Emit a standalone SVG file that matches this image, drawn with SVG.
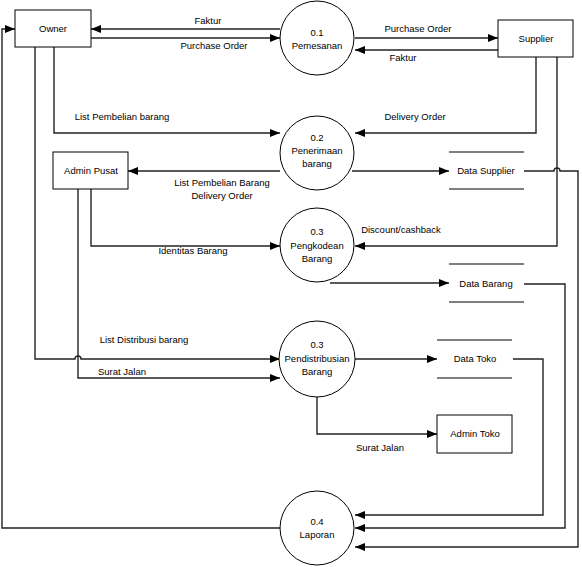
<svg xmlns="http://www.w3.org/2000/svg" width="582" height="567" viewBox="0 0 582 567">
<defs>
<marker id="ah" viewBox="0 0 10 8" refX="10" refY="4" markerWidth="10" markerHeight="8" markerUnits="userSpaceOnUse" orient="auto">
<path d="M0,0 L10,4 L0,8 Z" fill="#000"/>
</marker>
</defs>
<style>
text{font-family:"Liberation Sans",Arial,sans-serif;font-size:9.5px;fill:#000;text-anchor:middle}
.box{fill:#fff;stroke:#000;stroke-width:1}
.proc{fill:#fff;stroke:#000;stroke-width:1}
.store{stroke:#000;stroke-width:1}
.c{fill:none;stroke:#222;stroke-width:1.4;marker-end:url(#ah)}
.n{fill:none;stroke:#222;stroke-width:1.4}
</style>
<rect width="582" height="567" fill="#fff"/>
<g id="connectors">
<path class="c" d="M280,29 H91"/>
<path class="c" d="M91,38 H280"/>
<path class="c" d="M355,38 H498"/>
<path class="c" d="M498,50 H355"/>
<path class="c" d="M536,57 V133 H355"/>
<path class="c" d="M557,57 V246 H355"/>
<path class="c" d="M54,47 V133 H280"/>
<path class="c" d="M280,171 H128"/>
<path class="c" d="M352,171 H449"/>
<path class="c" d="M524,171 H554 A3,3 0 0 1 560,171 H578 V547 H355"/>
<path class="c" d="M91,189 V246 H280"/>
<path class="c" d="M330,283 H449"/>
<path class="c" d="M524,284 H565 V528 H355"/>
<path class="c" d="M35,47 V359 H75 A3,3 0 0 1 81,359 H280"/>
<path class="c" d="M78,189 V378 H280"/>
<path class="c" d="M355,359 H437"/>
<path class="c" d="M513,359 H543 V515 H355"/>
<path class="c" d="M317,397 V434 H437"/>
<path class="c" d="M280,528 H2 V29 H15"/>
<text x="208" y="24">Faktur</text>
<text x="214" y="49">Purchase Order</text>
<text x="418" y="32">Purchase Order</text>
<text x="403" y="61">Faktur</text>
<text x="415" y="120">Delivery Order</text>
<text x="122" y="120">List Pembelian barang</text>
<text x="222" y="186">List Pembelian Barang</text>
<text x="222" y="199">Delivery Order</text>
<text x="401" y="233">Discount/cashback</text>
<text x="193" y="254">Identitas Barang</text>
<text x="144" y="343">List Distribusi barang</text>
<text x="122" y="375">Surat Jalan</text>
<text x="380" y="451">Surat Jalan</text>
</g>
<g id="owner">
<rect class="box" x="15" y="10" width="76" height="37"/>
<text x="53" y="32">Owner</text>
</g>
<g id="supplier">
<rect class="box" x="498" y="20" width="75" height="37"/>
<text x="536" y="42">Supplier</text>
</g>
<g id="admin-pusat">
<rect class="box" x="53" y="152" width="75" height="37"/>
<text x="91" y="174">Admin Pusat</text>
</g>
<g id="admin-toko">
<rect class="box" x="437" y="415" width="75" height="38"/>
<text x="475" y="437">Admin Toko</text>
</g>
<g id="p01">
<circle class="proc" cx="317" cy="38" r="37"/>
<text x="317" y="36">0.1</text>
<text x="317" y="49">Pemesanan</text>
</g>
<g id="p02">
<circle class="proc" cx="317" cy="153" r="37"/>
<text x="317" y="141">0.2</text>
<text x="317" y="154">Penerimaan</text>
<text x="317" y="167">barang</text>
</g>
<g id="p03a">
<circle class="proc" cx="317" cy="245" r="37"/>
<text x="317" y="235">0.3</text>
<text x="317" y="249">Pengkodean</text>
<text x="317" y="262">Barang</text>
</g>
<g id="p03b">
<circle class="proc" cx="317" cy="359" r="38"/>
<text x="317" y="348">0.3</text>
<text x="317" y="362">Pendistribusian</text>
<text x="317" y="375">Barang</text>
</g>
<g id="p04">
<circle class="proc" cx="317" cy="528" r="37"/>
<text x="317" y="525">0.4</text>
<text x="317" y="538">Laporan</text>
</g>
<g id="data-supplier">
<line class="store" x1="449" y1="152" x2="524" y2="152"/>
<line class="store" x1="449" y1="189" x2="524" y2="189"/>
<text x="486" y="174">Data Supplier</text>
</g>
<g id="data-barang">
<line class="store" x1="449" y1="264" x2="524" y2="264"/>
<line class="store" x1="449" y1="302" x2="524" y2="302"/>
<text x="486" y="287">Data Barang</text>
</g>
<g id="data-toko">
<line class="store" x1="437" y1="340" x2="512" y2="340"/>
<line class="store" x1="437" y1="378" x2="512" y2="378"/>
<text x="475" y="362">Data Toko</text>
</g>
</svg>
